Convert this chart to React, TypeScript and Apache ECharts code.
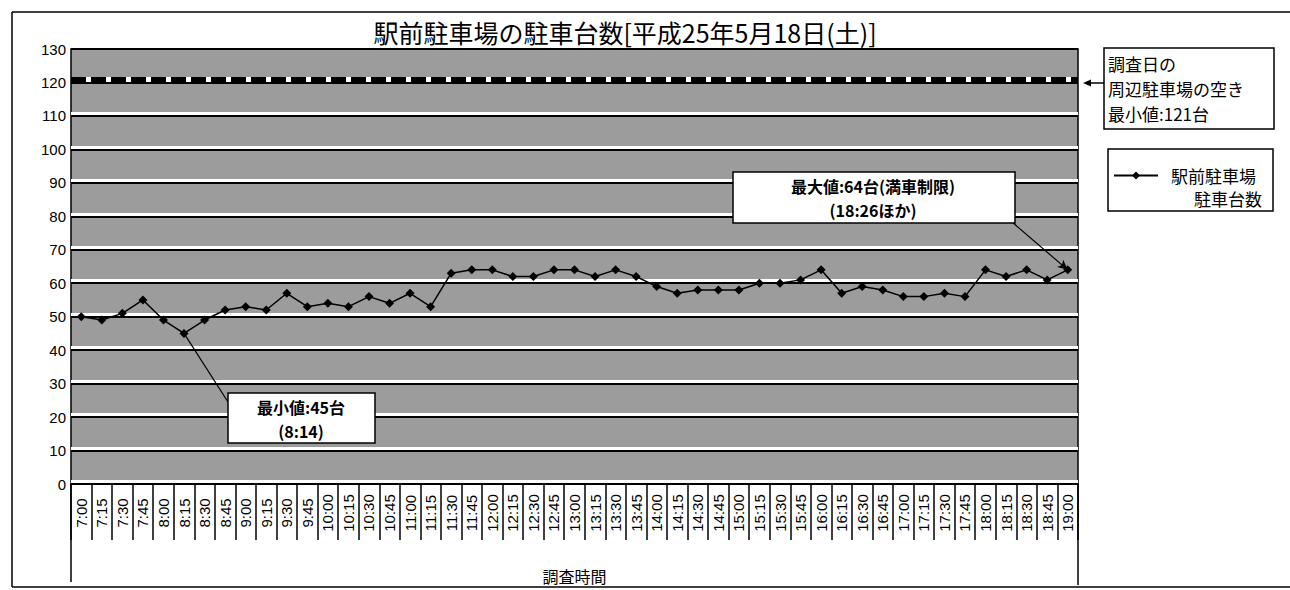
import React, { useEffect, useRef } from 'react';
import * as echarts from 'echarts';

const times = [
  '7:00', '7:15', '7:30', '7:45', '8:00', '8:15', '8:30', '8:45', '9:00', '9:15', '9:30', '9:45',
  '10:00', '10:15', '10:30', '10:45', '11:00', '11:15', '11:30', '11:45', '12:00', '12:15', '12:30', '12:45',
  '13:00', '13:15', '13:30', '13:45', '14:00', '14:15', '14:30', '14:45', '15:00', '15:15', '15:30', '15:45',
  '16:00', '16:15', '16:30', '16:45', '17:00', '17:15', '17:30', '17:45', '18:00', '18:15', '18:30', '18:45',
  '19:00',
];
const counts = [
  50, 49, 51, 55, 49, 45, 49, 52, 53, 52, 57, 53,
  54, 53, 56, 54, 57, 53, 63, 64, 64, 62, 62, 64,
  64, 62, 64, 62, 59, 57, 58, 58, 58, 60, 60, 61,
  64, 57, 59, 58, 56, 56, 57, 56, 64, 62, 64, 61,
  64,
];
const nearbyMinFree = 121;
const minTime = '8:15';
const minValue = 45;
const maxTime = '19:00';
const maxValue = 64;

const titleText = '駅前駐車場の駐車台数[平成25年5月18日(土)]';
const seriesName = '駅前駐車場駐車台数';
const legendLines = ['駅前駐車場', '駐車台数'];
const nearbyNote = ['調査日の', '周辺駐車場の空き', '最小値:121台'];
const minNote = ['最小値:45台', '(8:14)'];
const maxNote = ['最大値:64台(満車制限)', '(18:26ほか)'];
const xName = '調査時間';

const JP = '"Noto Sans CJK JP", "Noto Sans", sans-serif';
const NUM = '"Liberation Sans", Arial, sans-serif';

const blk = { stroke: '#000', lineWidth: 1.5 };

export default function App() {
  const ref = useRef<HTMLDivElement>(null);
  useEffect(() => {
    const chart = echarts.init(ref.current!, null, { renderer: 'svg' });
    const minIdx = times.indexOf(minTime);
    const maxIdx = times.indexOf(maxTime);
    const textLines = (lines: string[], x: number, y0: number, step: number, font: string, align: string) =>
      lines.map((t, i) => ({
        type: 'text',
        x,
        y: y0 + i * step,
        z: 11,
        style: { text: t, font, fill: '#000', align, verticalAlign: 'middle' },
      }));
    chart.setOption({
      animation: false,
      backgroundColor: '#ffffff',
      title: {
        text: titleText,
        left: 620,
        top: 14,
        textAlign: 'center',
        textStyle: { fontFamily: JP, fontSize: 25, fontWeight: 'normal', color: '#000' },
      },
      legend: {
        left: 1113,
        top: 167,
        padding: 0,
        itemWidth: 44,
        itemHeight: 10,
        data: [seriesName],
        formatter: () => legendLines[0],
        textStyle: { fontFamily: JP, fontSize: 17, color: '#000', padding: [0, 0, 0, 8] },
      },
      grid: [
        {
          left: 71,
          right: 212,
          top: 49,
          bottom: 106,
          show: true,
          backgroundColor: '#9c9c9c',
          borderColor: '#000',
          borderWidth: 1.5,
        },
        { left: 71, right: 212, top: 46.5, bottom: 108.5, show: false },
      ],
      xAxis: [
        {
          type: 'category',
          data: times,
          boundaryGap: true,
          axisLine: { lineStyle: { color: '#000', width: 1.5 } },
          axisTick: { show: true, interval: 0, length: 56, lineStyle: { color: '#000', width: 1.5 } },
          axisLabel: {
            interval: 0,
            rotate: 90,
            align: 'center',
            margin: 29,
            fontSize: 15,
            color: '#000',
            fontFamily: NUM,
          },
          name: xName,
          nameLocation: 'middle',
          nameGap: 84,
          nameTextStyle: { fontFamily: JP, fontSize: 16, color: '#000' },
        },
        { type: 'category', data: times, gridIndex: 1, show: false },
      ],
      yAxis: [
        {
          type: 'value',
          min: 0,
          max: 130,
          interval: 10,
          z: 2,
          axisLine: { show: false },
          axisTick: { show: false },
          axisLabel: { fontSize: 15, color: '#000', fontFamily: NUM, margin: 5 },
          splitLine: { lineStyle: { color: '#000', width: 1.8 } },
        },
        {
          type: 'value',
          gridIndex: 1,
          min: 0,
          max: 130,
          interval: 10,
          z: 1,
          axisLine: { show: false },
          axisTick: { show: false },
          axisLabel: { show: false },
          splitLine: { lineStyle: { color: '#ffffff', width: 3 } },
        },
      ],
      series: [
        {
          name: seriesName,
          type: 'line',
          data: counts,
          z: 3,
          symbol: 'diamond',
          symbolSize: 9,
          itemStyle: { color: '#000' },
          lineStyle: { color: '#000', width: 1.5 },
          markLine: {
            silent: true,
            symbol: ['none', 'none'],
            label: { show: false },
            emphasis: { disabled: true },
            data: [
              { yAxis: nearbyMinFree, lineStyle: { color: '#ffffff', width: 5, type: 'solid' } },
              { yAxis: nearbyMinFree, lineStyle: { color: '#000', width: 5, type: [15, 5] } },
              [
                { coord: [minIdx, minValue], lineStyle: { color: '#000', width: 1.2, type: 'solid' } },
                { x: 228, y: 402 },
              ],
              [
                { x: 1012, y: 222, lineStyle: { color: '#000', width: 1.2, type: 'solid' } },
                { coord: [maxIdx, maxValue], symbol: 'arrow', symbolSize: [7, 10] },
              ],
            ],
          },
        },
      ],
      graphic: [
        // outer chart frame
        { type: 'line', shape: { x1: 12, y1: 12, x2: 1290, y2: 12 }, style: blk },
        { type: 'line', shape: { x1: 12, y1: 12, x2: 12, y2: 587 }, style: blk },
        { type: 'line', shape: { x1: 12, y1: 587, x2: 1290, y2: 587 }, style: blk },
        // plot edges extended down
        { type: 'line', shape: { x1: 71, y1: 484, x2: 71, y2: 582 }, style: blk },
        { type: 'line', shape: { x1: 1078, y1: 484, x2: 1078, y2: 585 }, style: blk },
        // nearby parking note
        {
          type: 'rect',
          shape: { x: 1104, y: 48, width: 170, height: 81 },
          style: { fill: '#fff', stroke: '#000', lineWidth: 1.5 },
        },
        ...textLines(nearbyNote, 1108, 63, 25, '17px ' + JP, 'left'),
        { type: 'line', shape: { x1: 1104, y1: 83, x2: 1088, y2: 83 }, style: blk },
        { type: 'polygon', shape: { points: [[1083, 83], [1091, 79.5], [1091, 86.5]] }, style: { fill: '#000' } },
        // legend frame and second legend line
        {
          type: 'rect',
          shape: { x: 1108, y: 149, width: 165, height: 62 },
          style: { fill: 'none', stroke: '#000', lineWidth: 1.5 },
          z: 10,
        },
        ...textLines([legendLines[1]], 1262, 198, 24, '17px ' + JP, 'right'),
        // min note
        {
          type: 'rect',
          shape: { x: 228, y: 393, width: 147, height: 50 },
          style: { fill: '#fff', stroke: '#000', lineWidth: 1.5 },
          z: 10,
        },
        ...textLines(minNote, 301, 407, 23.5, 'bold 16px ' + JP, 'center'),
        // max note
        {
          type: 'rect',
          shape: { x: 733, y: 172, width: 282, height: 51 },
          style: { fill: '#fff', stroke: '#000', lineWidth: 1.5 },
          z: 10,
        },
        ...textLines(maxNote, 873, 186, 23.5, 'bold 16px ' + JP, 'center'),
      ],
    });
    return () => chart.dispose();
  }, []);
  return (
    <div
      ref={ref}
      style={{ position: 'fixed', left: 0, top: 0, width: 1290, height: 590, background: '#fff' }}
    />
  );
}
